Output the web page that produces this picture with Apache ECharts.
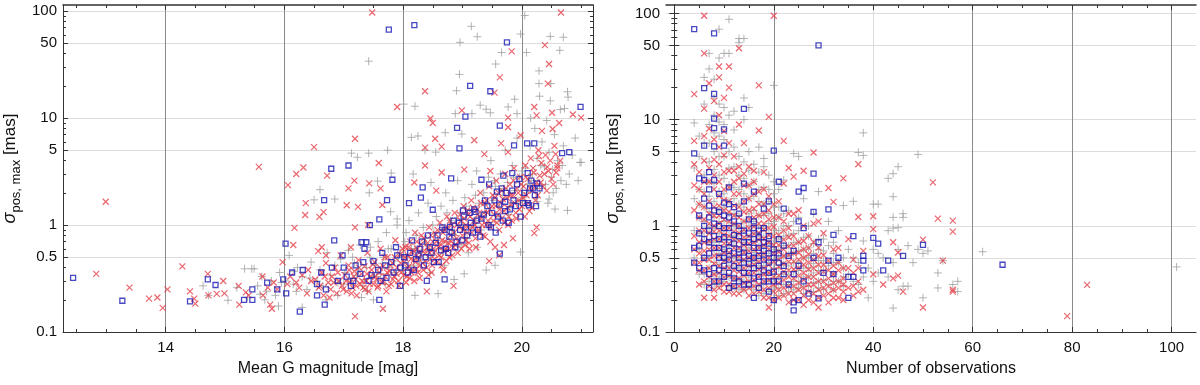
<!DOCTYPE html>
<html>
<head>
<meta charset="utf-8">
<script src="https://cdn.jsdelivr.net/npm/echarts@6/dist/echarts.min.js"></script>
<style>
html, body { margin: 0; padding: 0; background: #fff; }
#chart { width: 1200px; height: 385px; }
</style>
</head>
<body>
<div id="chart"></div>
<script>
// ---- tick values ----
var magTicks = [14, 16, 18, 20]
var magMinor = [12.5, 13, 13.5, 14.5, 15, 15.5, 16.5, 17, 17.5, 18.5, 19, 19.5, 20.5, 21]
var obsTicks = [0, 20, 40, 60, 80, 100]
var obsMinor = [5, 10, 15, 25, 30, 35, 45, 50, 55, 65, 70, 75, 85, 90, 95]
var sigmaTicks = [0.1, 0.5, 1, 5, 10, 50, 100]
var sigmaMinor = [0.2, 0.3, 0.4, 0.6, 0.7, 0.8, 0.9, 2, 3, 4, 6, 7, 8, 9, 20, 30, 40, 60, 70, 80, 90]

// ---- left panel: mean G magnitude vs sigma ----
var magGray = [
  [20.05,91],[19.15,72],[19.25,57.6],[19.98,61],[20.48,58],[20.7,57],[18.96,51],[20.08,41],[20.64,43],[19.66,41],
  [17.42,34],[19.56,32],[18.95,25.6],[20.29,27.6],[20.29,21],[20.49,21],[18.9,18],[20.77,17.6],[20.3,16],[20.78,15.7],
  [19.88,15],[18.01,13.5],[18.2,12.9],[19.3,13.2],[19.4,12.1],[19.77,12.7],[20.48,14.5],[20.72,12.3],[18.88,11],[19.16,11],
  [19.47,11.2],[19.92,11],[20.15,10],[18.14,6.6],[18.25,6.8],[18.37,5.0],[18.55,4.8],[18.71,7.3],[18.99,7.1],[17.13,4.7],
  [17.42,4.7],[17.23,4.3],[17.74,5.0],[17.8,3.06],[18.17,3.0],[18.47,2.5],[16.6,2.14],[16.5,1.72],[16.85,1.75],[17.43,2.0],
  [17.57,2.57],[17.79,1.33],[17.9,1.14],[16.08,0.52],[15.49,0.39],[15.33,0.39],[14.63,0.27],[14.72,0.22],[15.05,0.198],[15.38,0.21],
  [15.67,0.2],[15.59,0.225],[16.02,0.3],[16.16,0.37],[16.43,0.32],[18.59,0.228],[18.86,0.31],[19.03,0.35],[19.4,0.38],[19.55,0.42],
  [19.98,0.56],[20.56,1.41],[20.77,1.37],[20.98,3.85],[20.26,1.65],[20.46,1.75],[20.53,2.0],[20.66,2.6],[16.3,0.17],[15.9,0.175],
  [17.5,0.2],[17.3,0.21],[18.2,0.22],
  [15.45,0.39],[15.55,0.27],[15.62,0.33],[15.7,0.24],[15.78,0.3],[15.85,0.22],[15.92,0.36],[16.15,0.28],[16.22,0.4],[16.3,0.33],
  [16.38,0.25],[16.45,0.45],[16.55,0.3],[16.6,0.38],[16.65,0.27],[16.72,0.55],[16.78,0.34],[16.85,0.42],[16.9,0.29],[16.95,0.48],
  [17.02,0.36],[17.08,0.58],[17.12,0.3],[17.18,0.44],[17.22,0.34],[17.28,0.65],[17.32,0.27],[17.38,0.4],[17.44,0.5],[17.48,0.33],
  [17.53,0.42],[17.58,0.7],[17.62,0.35],[17.67,0.5],[17.72,0.85],[17.76,0.4],[17.8,0.6],[17.85,0.46],[17.9,1.0],[17.95,0.55],
  [17.98,0.38],[18.03,0.7],[18.07,0.5],[18.1,1.1],[18.14,0.6],[18.18,0.42],[18.22,0.8],[18.26,1.3],[18.3,0.55],[18.34,0.95],
  [18.38,0.68],[18.42,1.6],[18.46,0.5],[18.52,0.85],[18.56,1.2],[18.6,0.6],[18.64,1.5],[18.68,0.9],[18.72,2.0],[18.76,0.7],
  [18.8,1.1],[18.84,1.7],[18.88,0.8],[18.92,2.6],[18.96,1.3],[19.0,1.0],[19.04,1.8],[19.08,0.75],[19.12,1.4],[19.16,2.4],
  [19.2,1.1],[19.24,3.2],[19.28,1.6],[19.32,0.9],[19.36,2.0],[19.4,1.3],[19.44,2.8],[19.48,4.0],[19.52,1.7],[19.56,2.3],
  [19.6,1.2],[19.64,3.0],[19.68,1.9],[19.72,5.0],[19.76,2.5],[19.8,1.5],[19.84,3.6],[19.88,2.1],[19.92,6.5],[19.96,2.8],
  [20.02,1.8],[20.06,3.4],[20.1,2.4],[20.14,5.5],[20.18,3.0],[20.22,8.0],[20.26,4.2],[20.3,2.2],[20.34,6.0],[20.38,3.5],
  [20.42,9.5],[20.46,4.8],[20.5,2.8],[20.55,7.0],[20.6,4.0],[20.65,12],[20.7,5.5],[20.8,3.0],[20.9,6.5],[21.0,3.85],
  [17.0,0.28],[17.15,0.5],[17.25,0.38],[17.35,0.31],[17.45,0.62],[17.55,0.33],[17.65,0.44],[17.75,0.6],[17.85,0.36],[17.92,0.5],
  [18.0,0.45],[18.05,0.85],[18.12,0.38],[18.2,0.6],[18.28,0.47],[18.36,0.75],[18.44,0.6],[18.5,1.0],[18.58,0.72],[18.66,0.55],
  [18.74,1.3],[18.82,0.9],[18.9,1.15],[18.98,0.65],[19.06,1.5],[19.14,0.95],[19.22,1.9],[19.3,1.2],[19.38,1.55],[19.46,1.05],
  [19.54,2.6],[19.62,1.5],[19.7,2.2],[19.78,1.25],[19.86,2.8],[19.94,1.7],[20.0,3.2],[20.08,2.0],[20.16,2.6],[20.24,1.8],
  [20.32,3.6],[20.4,2.4],[20.44,1.6],[20.52,3.3],[20.58,2.2],[20.68,3.6],[20.75,2.4],[20.85,4.5],[20.95,2.6],[19.1,0.55],
  [19.25,0.62],[18.7,0.42],[18.45,0.36],[17.7,0.28],[17.4,0.24],[16.9,0.22],[16.7,0.2],[16.2,0.24],[15.95,0.29],[15.2,0.26]
]
var magRed = [
  [17.48,97],[20.66,97],[20.39,48],[19.83,42],[20.46,32],[19.63,24],[20.44,21],[18.37,17.8],[19.54,17.3],[17.9,12.7],
  [20.21,12.7],[18.99,11.8],[20.51,11.2],[20.25,10.6],[20.86,10.8],[21.0,10.1],[19.77,10.1],[18.46,9.9],[18.5,9.0],[20.63,9.0],
  [19.77,8.2],[20.34,7.6],[20.52,7.9],[19.98,6.9],[19.2,6.2],[18.54,6.4],[19.65,5.8],[18.37,5.3],[18.65,5.4],[19.37,4.6],
  [19.77,4.8],[20.57,4.6],[20.29,4.4],[18.37,3.6],[19.03,3.3],[19.47,3.2],[18.65,3.1],[20.6,3.4],[20.43,3.5],[18.19,2.5],
  [18.56,2.1],[16.5,5.35],[17.19,6.4],[15.57,3.5],[16.32,3.45],[16.2,3.0],[17.59,3.8],[16.72,2.9],[16.06,2.36],[17.18,2.6],
  [17.43,2.45],[17.08,2.2],[17.62,2.2],[16.36,1.6],[16.59,1.19],[16.66,1.32],[16.35,1.24],[17.05,1.53],[17.24,1.48],[17.65,1.54],
  [16.17,0.94],[17.19,0.95],[17.41,1.0],[12.99,1.65],[12.83,0.35],[13.39,0.26],[13.72,0.205],[13.86,0.21],[13.95,0.168],[14.03,0.25],
  [14.28,0.41],[14.41,0.24],[14.48,0.205],[14.5,0.184],[14.71,0.35],[14.72,0.22],[14.86,0.227],[14.97,0.3],[14.99,0.23],[15.23,0.27],
  [15.24,0.18],[15.35,0.235],[15.4,0.22],[15.63,0.33],[15.64,0.22],[15.72,0.26],[15.76,0.18],[15.79,0.165],[15.82,0.29],[15.88,0.25],
  [15.97,0.45],[16.15,0.65],[16.2,0.29],[16.3,0.34],[16.38,0.23],[16.57,0.57],[16.63,0.62],[16.7,0.52],[17.66,0.165],[17.19,0.14],
  [18.85,0.27],[18.4,0.24],[16.05,0.28],[16.1,0.33],[16.25,0.26],[16.45,0.3],[16.4,0.38],
  [20.21,0.84],[20.25,0.95],[19.45,0.46],[19.62,0.52],[19.7,0.65],[19.85,0.75],[19.55,0.62],
  [16.52,0.31],[16.58,0.26],[16.63,0.36],[16.66,0.22],[16.7,0.44],[16.74,0.29],[16.78,0.25],[16.8,0.33],[16.85,0.4],[16.88,0.23],
  [16.92,0.3],[16.95,0.52],[16.97,0.27],[17.02,0.34],[17.05,0.24],[17.08,0.42],[17.1,0.29],[17.12,0.62],[17.15,0.26],[17.18,0.37],
  [17.2,0.31],[17.22,0.22],[17.25,0.47],[17.28,0.28],[17.3,0.35],[17.33,0.26],[17.35,0.41],[17.38,0.3],[17.4,0.55],[17.42,0.24],
  [17.45,0.33],[17.47,0.38],[17.5,0.28],[17.52,0.45],[17.55,0.31],[17.57,0.26],[17.6,0.36],[17.62,0.6],[17.65,0.29],[17.67,0.41],
  [17.7,0.33],[17.72,0.24],[17.74,0.5],[17.77,0.37],[17.8,0.28],[17.82,0.44],[17.85,0.33],[17.87,0.72],[17.9,0.4],[17.92,0.3],
  [17.95,0.53],[17.97,0.36],[18.02,0.45],[18.04,0.62],[18.06,0.33],[18.08,0.52],[18.1,0.41],[18.12,0.7],[18.14,0.36],[18.16,0.55],
  [18.18,0.47],[18.2,0.85],[18.22,0.39],[18.24,0.6],[18.26,0.5],[18.28,0.32],[18.3,0.66],[18.33,0.44],[18.35,0.75],[18.37,0.54],
  [18.4,0.4],[18.42,0.62],[18.44,0.95],[18.46,0.48],[18.48,0.36],[18.5,0.7],[18.52,0.55],[18.55,0.82],[18.57,0.45],[18.6,0.62],
  [18.62,1.05],[18.64,0.5],[18.66,0.72],[18.68,0.38],[18.7,0.9],[18.72,0.6],[18.74,1.2],[18.76,0.68],[18.78,0.5],[18.8,0.8],
  [18.82,1.0],[18.85,0.62],[18.87,1.3],[18.9,0.75],[18.92,0.55],[18.95,0.95],[18.97,1.1],[19.0,0.8],[19.02,1.5],[19.04,0.65],
  [19.06,1.0],[19.08,0.85],[19.1,1.25],[19.12,0.6],[19.15,1.7],[19.17,0.95],[19.2,1.1],[19.22,0.75],[19.25,1.4],[19.27,0.9],
  [19.3,2.0],[19.32,1.15],[19.35,0.8],[19.37,1.6],[19.4,1.0],[19.42,1.3],[19.45,2.3],[19.47,0.7],[19.5,1.5],[19.52,1.1],
  [19.55,1.8],[19.57,2.6],[19.6,1.25],[19.62,0.9],[19.65,1.6],[19.67,2.1],[19.7,1.35],[19.72,3.0],[19.75,1.8],[19.77,1.0],
  [19.8,2.4],[19.82,1.55],[19.85,1.9],[19.87,3.4],[19.9,1.3],[19.92,2.2],[19.95,1.7],[19.97,2.8],[20.0,1.5],[20.03,2.3],
  [20.06,3.6],[20.08,1.9],[20.1,2.7],[20.13,1.35],[20.15,4.2],[20.18,2.1],[20.2,3.1],[20.23,1.7],[20.25,2.5],[20.28,5.0],
  [20.3,2.9],[20.33,3.8],[20.36,2.3],[20.4,4.5],[20.45,3.2],[20.5,2.7],[20.55,5.5],[20.6,3.6],[20.65,4.0],
  [16.6,0.27],[16.68,0.33],[16.76,0.21],[16.83,0.29],[16.9,0.36],[16.99,0.25],[17.04,0.3],[17.09,0.38],[17.13,0.23],[17.17,0.33],
  [17.21,0.27],[17.26,0.4],[17.31,0.3],[17.36,0.25],[17.39,0.35],[17.44,0.28],[17.49,0.43],[17.53,0.33],[17.58,0.27],[17.61,0.4],
  [17.66,0.3],[17.69,0.5],[17.73,0.36],[17.76,0.27],[17.79,0.42],[17.83,0.31],[17.86,0.5],[17.89,0.35],[17.93,0.27],[17.96,0.44],
  [17.99,0.6],[18.01,0.34],[18.03,0.5],[18.05,0.29],[18.07,0.4],[18.09,0.62],[18.11,0.32],[18.13,0.48],[18.15,0.38],[18.17,0.58],
  [18.19,0.3],[18.21,0.45],[18.23,0.7],[18.25,0.36],[18.27,0.55],[18.29,0.42],[18.31,0.8],[18.34,0.38],[18.36,0.58],[18.38,0.46],
  [18.41,0.68],[18.43,0.34],[18.45,0.55],[18.47,0.8],[18.49,0.42],[18.51,0.6],[18.53,0.48],[18.56,0.7],[18.58,0.9],[18.61,0.52],
  [18.63,0.66],[18.65,0.42],[18.67,0.85],[18.69,0.58],[18.71,0.7],[18.73,0.46],[18.75,0.95],[18.77,0.6],[18.79,1.1],[18.81,0.7],
  [18.83,0.52],[18.86,0.85],[18.88,0.65],[18.91,1.0],[18.93,0.7],[18.96,1.25],[18.98,0.6],[19.01,0.9],[19.03,1.15],[19.05,0.72],
  [19.07,1.35],[19.09,0.95],[19.11,0.68],[19.13,1.2],[19.16,0.85],[19.18,1.45],[19.21,1.0],[19.23,0.62],[19.26,1.25],[19.28,0.85],
  [19.31,1.6],[19.33,1.0],[19.36,1.3],[19.38,0.78],[19.41,1.7],[19.43,1.1],[19.46,1.4],[19.48,0.95],[19.51,1.9],[19.53,1.25],
  [19.56,1.5],[19.58,1.05],[19.61,2.0],[19.63,1.4],[19.66,1.15],[19.68,1.75],[19.71,1.05],[19.73,2.2],[19.76,1.45],[19.78,1.2],
  [19.81,1.9],[19.83,1.1],[19.86,2.6],[19.88,1.6],[19.91,1.15],[19.94,2.0],[19.96,1.4],[19.99,2.4],[20.02,1.8],[20.05,1.2],
  [20.07,2.8],[20.11,1.6],[20.14,2.2],[20.17,1.45],[20.19,3.4],[20.22,2.3],[20.27,1.9],[20.32,2.5],[20.38,3.0],[20.42,2.1],
  [20.48,4.0],[20.53,2.4],[20.58,3.1]
]
var magBlue = [
  [12.44,0.32],[13.27,0.196],[14.41,0.193],[14.71,0.31],[14.84,0.275],[15.32,0.2],[15.46,0.25],[15.46,0.2],[15.71,0.29],[15.88,0.25],
  [15.98,0.31],[16.02,0.67],[16.03,0.23],[16.13,0.36],[16.26,0.155],[16.31,0.38],[16.55,0.22],[16.68,0.18],[16.67,1.71],[16.79,3.36],
  [16.84,0.72],[17.08,3.6],[17.44,1.0],[17.6,1.13],[17.73,1.71],[17.82,2.65],[17.76,67],[18.19,74],[19.75,51],[19.13,20],
  [19.47,17.8],[20.99,12.7],[19.05,10.3],[19.63,8.5],[18.91,8.1],[18.95,5.2],[19.87,5.55],[20.09,5.8],[20.21,5.8],[20.68,4.7],
  [20.8,4.8],[18.33,2.25],[18.81,2.73],[18.3,1.8],[18.1,1.6],[18.5,1.39],[19.32,2.65],[19.45,2.4],[19.58,2.05],[19.69,2.9],
  [19.84,3.06],[20.1,3.06],[20.26,2.45],[20.19,2.2],[20.12,1.53],[19.72,1.65],[19.01,1.37],[19.22,1.33],[18.79,0.96],[19.63,0.54],
  [18.4,0.3],[18.7,0.31],[17.6,0.2],[17.95,0.27],[17.3,0.69],[17.38,0.69],
  [16.55,0.28],[16.62,0.36],[16.7,0.25],[16.8,0.4],[16.9,0.3],[16.98,0.52],[17.05,0.33],[17.12,0.27],[17.2,0.42],[17.28,0.35],
  [17.35,0.6],[17.42,0.3],[17.5,0.46],[17.58,0.38],[17.65,0.55],[17.72,0.32],[17.8,0.45],[17.88,0.62],[17.95,0.4],[18.02,0.5],
  [18.08,0.36],[18.15,0.72],[18.22,0.48],[18.28,0.6],[18.35,0.42],[18.42,0.8],[18.48,0.55],[18.55,0.68],[18.6,0.45],[18.66,0.95],
  [18.72,0.6],[18.78,0.78],[18.85,1.1],[18.9,0.7],[18.96,0.9],[19.02,1.2],[19.08,0.8],[19.14,1.05],[19.2,1.4],[19.26,0.9],
  [19.32,1.15],[19.38,1.7],[19.44,1.0],[19.5,1.3],[19.56,0.85],[19.62,1.55],[19.68,1.1],[19.74,2.0],[19.8,1.4],[19.86,1.7],
  [19.92,2.4],[19.98,1.2],[20.04,2.0],[20.1,1.6],[20.16,2.6],[20.22,1.9],[20.3,2.2],
  [17.0,0.4],[17.16,0.3],[17.33,0.45],[17.47,0.34],[17.62,0.3],[17.7,0.42],[17.84,0.36],[17.9,0.52],[18.04,0.42],[18.12,0.55],
  [18.18,0.38],[18.26,0.52],[18.32,0.7],[18.38,0.5],[18.45,0.62],[18.52,0.45],[18.58,0.8],[18.64,0.58],[18.7,0.9],[18.76,0.55],
  [18.82,0.85],[18.88,0.62],[18.94,1.05],[19.0,0.72],[19.06,0.95],[19.12,1.3],[19.18,0.85],[19.24,1.1],[19.3,0.78],[19.36,1.25],
  [19.42,1.5],[19.48,0.95],[19.54,1.7],[19.6,1.2],[19.66,2.2],[19.72,1.35],[19.78,1.05],[19.84,2.1],[19.9,1.5],[19.96,2.7],
  [20.02,1.6],[20.14,2.2],[20.24,1.5]
]

// ---- right panel: number of observations vs sigma ----
var obsGray = [
  [4,0.5],[4,0.9],[4,1.8],[4,3.5],[4,9.3],[5,0.6],[5,1.2],[5,2.2],[5,4.5],[5,7],
  [6,0.35],[6,0.8],[6,1.5],[6,3],[6,6],[6,14],[6,25],[7,0.3],[7,0.5],[7,0.95],
  [7,1.9],[7,4],[7,9],[7,30],[7,42],[8,0.28],[8,0.45],[8,0.7],[8,1.2],[8,2.5],
  [8,5],[8,11],[8,16],[9,0.33],[9,0.55],[9,0.85],[9,1.4],[9,3],[9,7],[9,14],
  [9,71],[9,38],[10,0.3],[10,0.48],[10,0.75],[10,1.1],[10,2],[10,4.5],[10,9],[10,42],
  [11,0.27],[11,0.42],[11,0.65],[11,1.0],[11,1.7],[11,3.5],[11,88],[11,42],[12,0.32],[12,0.5],
  [12,0.8],[12,1.3],[12,2.3],[12,5.5],[12,12],[13,0.25],[13,0.4],[13,0.6],[13,0.95],[13,1.6],
  [13,3],[13,53],[13,58],[14,0.3],[14,0.46],[14,0.7],[14,1.1],[14,2],[14,4],[14,16],
  [14,58],[15,0.27],[15,0.42],[15,0.62],[15,1.0],[15,1.8],[15,3.3],[15,13],[16,0.25],[16,0.38],
  [16,0.56],[16,0.85],[16,1.4],[16,2.6],[17,0.22],[17,0.35],[17,0.52],[17,0.8],[17,1.25],[17,2.2],
  [17,5.5],[18,0.28],[18,0.42],[18,0.62],[18,0.95],[18,1.6],[18,3.6],[19,0.24],[19,0.36],[19,0.55],
  [19,0.85],[19,1.3],[19,2.2],[20,0.21],[20,0.32],[20,0.48],[20,0.72],[20,1.1],[20,2.0],[20,21],
  [21,0.26],[21,0.4],[21,0.6],[21,0.9],[21,1.5],[22,0.23],[22,0.35],[22,0.52],[22,0.8],[22,1.3],
  [22,2.7],[23,0.28],[23,0.42],[23,0.65],[23,1.0],[24,0.25],[24,0.37],[24,0.56],[24,0.85],[24,4.8],
  [25,0.3],[25,0.45],[25,0.7],[25,1.2],[25,4.5],[26,0.27],[26,0.4],[26,0.6],[26,1.8],[27,0.33],
  [27,0.5],[27,0.8],[28,0.29],[28,0.44],[28,0.68],[28,1.3],[29,0.26],[29,0.38],[29,0.6],[29,2.1],
  [30,0.31],[30,0.47],[30,0.75],[31,0.28],[31,0.42],[31,0.65],[31,1.1],[32,0.25],[32,0.35],[32,0.55],
  [33,0.3],[33,0.45],[33,0.9],[34,0.27],[34,0.4],[34,1.55],[35,0.35],[35,0.6],[36,0.3],[36,0.5],
  [36,1.7],[37,0.28],[37,0.45],[37,4.9],[38,0.33],[38,0.72],[38,7.5],[38,4.6],[39,0.4],[39,0.21],
  [40,0.3],[40,0.6],[40,1.6],[41,0.36],[41,0.55],[41,1.6],[42,0.5],[43,0.33],[43,0.9],[43,2.8],
  [44,0.168],[44,0.45],[44,0.95],[44,1.2],[44,1.88],[44,3.1],[45,0.6],[45,0.25],[45,3.6],[45,0.96],
  [46,0.27],[46,1.2],[46,1.3],[47,0.27],[47,0.65],[48,0.45],[49,0.6],[49,4.7],[50,0.55],[50,0.21],
  [51,0.58],[53,0.26],[53,0.36],[54,0.47],[56,0.28],[57,0.24],[57,0.3],[62,0.57],[101,0.41],
  [5,0.35],[5,0.85],[5,1.6],[6,0.28],[6,0.5],[6,1.1],[6,2.1],[7,0.4],[7,0.7],[7,1.35],
  [7,2.6],[7,6],[8,0.35],[8,0.58],[8,0.95],[8,1.7],[8,3.4],[8,7.5],[8,24],[9,0.27],
  [9,0.43],[9,0.7],[9,1.1],[9,2.1],[9,4.5],[9,9.5],[10,0.38],[10,0.6],[10,0.9],[10,1.5],
  [10,2.8],[10,6.5],[10,13],[11,0.33],[11,0.52],[11,0.8],[11,1.3],[11,2.4],[11,5],[11,11],
  [12,0.26],[12,0.4],[12,0.65],[12,1.0],[12,1.8],[12,3.6],[12,8],[13,0.31],[13,0.48],[13,0.75],
  [13,1.25],[13,2.2],[13,4.5],[14,0.25],[14,0.38],[14,0.58],[14,0.9],[14,1.5],[14,2.8],[14,10],
  [15,0.33],[15,0.5],[15,0.78],[15,1.3],[15,2.4],[15,5],[16,0.3],[16,0.46],[16,0.7],[16,1.1],
  [16,1.9],[16,3.8],[17,0.27],[17,0.42],[17,0.64],[17,1.0],[17,1.7],[17,3.2],[18,0.23],[18,0.35],
  [18,0.52],[18,0.78],[18,1.25],[18,2.3],[18,4.3],[19,0.3],[19,0.45],[19,0.68],[19,1.05],[19,1.7],
  [19,3],[20,0.26],[20,0.4],[20,0.6],[20,0.9],[20,1.5],[20,2.6],[21,0.22],[21,0.33],[21,0.5],
  [21,0.75],[21,1.2],[21,2.2],[22,0.28],[22,0.43],[22,0.65],[22,1.0],[23,0.24],[23,0.35],[23,0.53],
  [23,0.82],[23,1.4],[24,0.3],[24,0.45],[24,0.7],[24,1.1],[25,0.26],[25,0.38],[25,0.58],[25,0.9],
  [26,0.23],[26,0.33],[26,0.5],[26,0.78],[27,0.27],[27,0.4],[27,0.62],[27,1.0],[28,0.24],[28,0.36],
  [28,0.55],[29,0.3],[29,0.47],[29,0.75],[30,0.25],[30,0.38],[30,0.58],[32,0.3],[32,0.45],[32,0.7],
  [34,0.33],[34,0.5]
]
var obsRed = [
  [4,0.45],[4,0.8],[4,2.4],[4,6.3],[4,17.4],[5,0.38],[5,0.55],[5,0.9],[5,1.6],[5,3.2],
  [6,0.21],[6,0.3],[6,0.48],[6,0.7],[6,1.15],[6,2.0],[6,4.1],[6,12.7],[6,42],[6,95],
  [7,0.27],[7,0.4],[7,0.6],[7,0.85],[7,1.3],[7,2.6],[7,8.2],[8,0.21],[8,0.25],[8,0.35],
  [8,0.52],[8,0.75],[8,1.0],[8,1.5],[8,3.0],[8,6.5],[9,0.3],[9,0.42],[9,0.62],[9,0.9],
  [9,1.25],[9,1.9],[9,3.8],[9,11],[9,25],[9,31.6],[10,0.24],[10,0.33],[10,0.47],[10,0.68],
  [10,0.95],[10,1.4],[10,2.2],[10,7.8],[10,16],[11,0.28],[11,0.4],[11,0.56],[11,0.8],[11,1.1],
  [11,1.7],[11,3.3],[11,20],[11,31.6],[12,0.23],[12,0.32],[12,0.45],[12,0.62],[12,0.88],[12,1.25],
  [12,2.0],[12,4.5],[13,0.27],[13,0.37],[13,0.52],[13,0.72],[13,1.0],[13,1.5],[13,2.8],[13,9],
  [13,47],[14,0.25],[14,0.34],[14,0.48],[14,0.66],[14,0.92],[14,1.35],[14,2.4],[14,6],[15,0.22],
  [15,0.3],[15,0.42],[15,0.58],[15,0.8],[15,1.15],[15,1.8],[15,3.6],[16,0.27],[16,0.36],[16,0.5],
  [16,0.7],[16,0.98],[16,1.45],[16,2.6],[17,0.24],[17,0.33],[17,0.46],[17,0.62],[17,0.86],[17,1.25],
  [17,2.1],[17,7.9],[17,21],[18,0.21],[18,0.3],[18,0.4],[18,0.55],[18,0.76],[18,1.05],[18,1.6],
  [18,3.2],[19,0.17],[19,0.26],[19,0.36],[19,0.5],[19,0.7],[19,0.95],[19,1.4],[19,10.6],[20,0.2],
  [20,0.28],[20,0.38],[20,0.55],[20,0.8],[20,1.2],[20,95],[21,0.25],[21,0.34],[21,0.48],[21,0.66],
  [21,1.7],[22,0.22],[22,0.31],[22,0.44],[22,0.6],[22,0.9],[22,2.5],[22,6.3],[23,0.19],[23,0.27],
  [23,0.38],[23,0.53],[23,0.78],[23,1.3],[23,3.5],[24,0.23],[24,0.32],[24,0.46],[24,0.65],[24,2.9],
  [25,0.2],[25,0.29],[25,0.4],[25,0.56],[25,1.4],[26,0.18],[26,0.26],[26,0.36],[26,0.5],[26,0.72],
  [26,3.3],[27,0.24],[27,0.33],[27,0.45],[27,0.62],[28,0.19],[28,0.28],[28,0.4],[28,1.05],[28,4.9],
  [29,0.17],[29,0.25],[29,0.36],[29,0.52],[30,0.22],[30,0.3],[30,0.43],[30,0.85],[31,0.19],[31,0.27],
  [31,0.38],[31,2.27],[32,0.25],[32,0.35],[32,0.6],[32,1.68],[33,0.21],[33,0.3],[33,0.45],[34,0.24],
  [34,0.32],[34,2.8],[35,0.26],[35,0.4],[35,0.75],[36,0.22],[36,0.48],[37,0.3],[37,1.21],[37,3.8],
  [38,0.25],[38,0.58],[40,0.35],[40,0.93],[40,1.23],[42,0.28],[44,0.32],[44,0.7],[45,0.34],[45,0.56],
  [46,0.24],[50,0.17],[50,0.74],[52,2.56],[53,1.17],[54,0.47],[56,0.24],[56,0.25],[56,0.88],[56,1.12],
  [79,0.141],[83,0.278],
  [4,0.6],[4,1.4],[4,3.8],[5,0.28],[5,0.45],[5,0.7],[5,1.2],[5,2.2],[6,0.38],[6,0.58],
  [6,0.9],[6,1.5],[6,2.6],[6,7],[7,0.33],[7,0.48],[7,0.72],[7,1.05],[7,1.7],[7,3.5],
  [7,22],[8,0.3],[8,0.44],[8,0.62],[8,0.88],[8,1.25],[8,2.2],[8,4.2],[8,15],[9,0.26],
  [9,0.36],[9,0.52],[9,0.75],[9,1.05],[9,1.55],[9,2.6],[9,5.5],[10,0.28],[10,0.4],[10,0.56],
  [10,0.82],[10,1.15],[10,1.75],[10,3.2],[10,4.6],[11,0.24],[11,0.34],[11,0.48],[11,0.68],[11,0.95],
  [11,1.35],[11,2.3],[11,6],[12,0.27],[12,0.38],[12,0.53],[12,0.74],[12,1.05],[12,1.55],[12,2.6],
  [12,3.3],[13,0.23],[13,0.32],[13,0.44],[13,0.62],[13,0.85],[13,1.2],[13,2.0],[13,3.6],[14,0.29],
  [14,0.4],[14,0.56],[14,0.78],[14,1.1],[14,1.7],[14,3.1],[15,0.26],[15,0.36],[15,0.5],[15,0.68],
  [15,0.95],[15,1.4],[15,2.4],[16,0.23],[16,0.31],[16,0.43],[16,0.6],[16,0.84],[16,1.2],[16,2.0],
  [16,3.3],[17,0.28],[17,0.39],[17,0.54],[17,0.74],[17,1.05],[17,1.6],[18,0.25],[18,0.35],[18,0.48],
  [18,0.66],[18,0.92],[18,1.3],[18,2.2],[19,0.21],[19,0.31],[19,0.43],[19,0.6],[19,0.82],[19,1.15],
  [19,1.9],[20,0.24],[20,0.33],[20,0.46],[20,0.66],[20,0.98],[20,1.6],[21,0.21],[21,0.29],[21,0.41],
  [21,0.57],[21,0.82],[21,1.2],[22,0.26],[22,0.37],[22,0.52],[22,0.74],[22,1.1],[23,0.23],[23,0.33],
  [23,0.46],[23,0.64],[23,0.95],[24,0.2],[24,0.27],[24,0.39],[24,0.55],[24,0.8],[24,1.3],[25,0.25],
  [25,0.34],[25,0.48],[25,0.7],[26,0.22],[26,0.31],[26,0.43],[26,0.6],[26,1.0],[27,0.2],[27,0.28],
  [27,0.39],[27,0.54],[27,0.8],[28,0.23],[28,0.33],[28,0.48],[28,0.7],[29,0.21],[29,0.3],[29,0.43],
  [29,0.62],[29,1.1],[30,0.26],[30,0.37],[30,0.53],[31,0.23],[31,0.32],[31,0.47],[32,0.21],[32,0.29],
  [32,0.42],[33,0.26],[33,0.38],[33,0.62],[34,0.2],[34,0.28],[34,0.4],[36,0.27],[36,0.36],[37,0.24],
  [37,0.4]
]
var obsBlue = [
  [4,0.45],[4,0.62],[4,4.8],[4,71],[5,0.65],[5,1.25],[5,2.8],[6,0.38],[6,0.75],[6,2.7],
  [6,5.7],[6,19.8],[7,0.26],[7,0.55],[7,0.9],[7,1.55],[7,3.2],[8,0.3],[8,0.62],[8,1.05],
  [8,2.7],[8,5.6],[8,8.3],[8,10.2],[8,17.5],[8,65],[9,0.38],[9,0.5],[9,0.75],[9,1.35],
  [10,0.42],[10,0.6],[10,0.95],[10,1.65],[10,5.7],[10,8.1],[11,0.26],[11,0.48],[11,0.7],[11,1.2],
  [11,2.3],[12,0.32],[12,0.55],[12,0.82],[12,1.5],[13,0.4],[13,0.6],[13,1.0],[14,0.28],[14,0.45],
  [14,0.7],[14,1.7],[14,2.5],[14,12.6],[15,0.36],[15,0.52],[15,0.85],[16,0.21],[16,0.32],[16,0.5],
  [16,0.75],[16,1.1],[16,2.1],[17,0.26],[17,0.42],[17,0.62],[17,0.9],[18,0.3],[18,0.48],[18,0.7],
  [18,1.45],[19,0.24],[19,0.36],[19,0.55],[19,0.8],[19,1.7],[20,0.2],[20,0.3],[20,0.6],[20,5.1],
  [21,0.45],[21,0.75],[21,2.6],[22,0.35],[22,1.45],[23,0.28],[23,0.52],[24,0.16],[24,0.19],[25,0.2],
  [25,0.42],[25,1.1],[25,2.1],[26,0.3],[26,0.95],[26,2.27],[27,0.23],[28,0.5],[28,1.35],[28,3.1],
  [29,0.207],[29,0.7],[29,50],[30,0.36],[31,0.47],[31,1.43],[32,0.82],[32,0.35],[33,0.5],[35,0.21],
  [35,0.33],[36,0.8],[36,0.33],[38,0.52],[38,0.38],[38,0.47],[40,0.77],[41,0.68],[42,0.38],[43,0.47],
  [46,0.52],[50,0.66],[66,0.43],
  [5,0.4],[5,0.85],[6,0.5],[6,1.0],[6,1.8],[7,0.35],[7,0.7],[7,1.2],[7,2.2],[8,0.4],
  [8,0.8],[8,1.4],[9,0.3],[9,0.62],[9,1.0],[9,2.0],[10,0.33],[10,0.5],[10,0.78],[10,1.25],
  [11,0.36],[11,0.58],[11,0.95],[11,1.6],[12,0.27],[12,0.42],[12,0.68],[12,1.1],[13,0.3],[13,0.5],
  [13,0.8],[13,1.3],[14,0.36],[14,0.56],[14,0.9],[15,0.28],[15,0.44],[15,0.7],[15,1.15],[16,0.4],
  [16,0.62],[16,0.95],[17,0.33],[17,0.52],[17,0.78],[18,0.38],[18,0.58],[18,0.95],[19,0.3],[19,0.45],
  [19,0.68],[20,0.37],[20,0.5],[21,0.3],[21,0.55],[22,0.42],[22,0.65],[24,0.35],[24,0.58]
]

var FONT = '"Liberation Sans", Arial, Helvetica, sans-serif'
var FRAME = '#333'
var PLUS = 'path://M5,0L5,10M0,5L10,5'
var CROSS = 'path://M0,0L10,10M10,0L0,10'

function xAxes(grid, min, max, name, major, minor, splitColors) {
  var base = { type: 'value', gridIndex: grid, min: min, max: max }
  return [
    Object.assign({}, base, {
      position: 'bottom', name: name, nameLocation: 'middle', nameGap: 29,
      nameTextStyle: { fontFamily: FONT, fontSize: 16, color: '#111' },
      axisLine: { show: true, lineStyle: { color: FRAME, width: 1 } },
      axisTick: { inside: true, length: 5, customValues: major, lineStyle: { color: FRAME } },
      axisLabel: { customValues: major, margin: 8, fontFamily: FONT, fontSize: 15, color: '#111' },
      splitLine: { show: true, lineStyle: { color: splitColors, width: 1 } }
    }),
    Object.assign({}, base, {
      position: 'bottom', axisLine: { show: false },
      axisTick: { inside: true, length: 3, customValues: minor, lineStyle: { color: FRAME } },
      axisLabel: { show: false }, splitLine: { show: false }
    }),
    Object.assign({}, base, {
      position: 'top', axisLine: { show: true, lineStyle: { color: FRAME, width: 1.5 } },
      axisTick: { inside: true, length: 5, customValues: major, lineStyle: { color: FRAME } },
      axisLabel: { show: false }, splitLine: { show: false }
    }),
    Object.assign({}, base, {
      position: 'top', axisLine: { show: false },
      axisTick: { inside: true, length: 3, customValues: minor, lineStyle: { color: FRAME } },
      axisLabel: { show: false }, splitLine: { show: false }
    })
  ]
}

function yAxes(grid, max) {
  var base = { type: 'log', logBase: 10, gridIndex: grid, min: 0.1, max: max }
  return [
    Object.assign({}, base, {
      position: 'left',
      name: '{i|σ}{s|pos, max} [mas]', nameLocation: 'middle', nameGap: 40,
      nameTextStyle: {
        fontFamily: FONT, fontSize: 17, color: '#111',
        rich: {
          i: { fontFamily: FONT, fontSize: 18, fontStyle: 'italic', color: '#111' },
          s: { fontFamily: FONT, fontSize: 13, color: '#111', verticalAlign: 'bottom', lineHeight: 26 }
        }
      },
      axisLine: { show: true, lineStyle: { color: FRAME, width: 1 } },
      axisTick: { inside: true, length: 5, customValues: sigmaTicks, lineStyle: { color: FRAME } },
      axisLabel: { customValues: sigmaTicks, margin: 6, fontFamily: FONT, fontSize: 15, color: '#111' },
      splitLine: { show: true, lineStyle: { color: '#dcdcdc', width: 1 } }
    }),
    Object.assign({}, base, {
      position: 'left', axisLine: { show: false },
      axisTick: { inside: true, length: 3, customValues: sigmaMinor, lineStyle: { color: FRAME } },
      axisLabel: { show: false }, splitLine: { show: false }
    }),
    Object.assign({}, base, {
      position: 'right', axisLine: { show: true, lineStyle: { color: FRAME, width: 1 } },
      axisTick: { inside: true, length: 5, customValues: sigmaTicks, lineStyle: { color: FRAME } },
      axisLabel: { show: false }, splitLine: { show: false }
    }),
    Object.assign({}, base, {
      position: 'right', axisLine: { show: false },
      axisTick: { inside: true, length: 3, customValues: sigmaMinor, lineStyle: { color: FRAME } },
      axisLabel: { show: false }, splitLine: { show: false }
    })
  ]
}

function scatter(data, axis, kind) {
  var s = { type: 'scatter', xAxisIndex: axis, yAxisIndex: axis, data: data, silent: true }
  if (kind === 'plus') {
    s.symbol = PLUS; s.symbolSize = 8
    s.itemStyle = { color: 'rgba(0,0,0,0)', borderColor: '#a0a0a0', borderWidth: 1 }
  } else if (kind === 'cross') {
    s.symbol = CROSS; s.symbolSize = 6
    s.itemStyle = { color: 'rgba(0,0,0,0)', borderColor: '#e6404a', borderWidth: 1.2 }
  } else {
    s.symbol = 'rect'; s.symbolSize = 5
    s.itemStyle = { color: 'rgba(0,0,0,0)', borderColor: '#1a1ab4', borderWidth: 1.3 }
  }
  return s
}

var chart = echarts.init(document.getElementById('chart'), null, { renderer: 'canvas' })
chart.setOption({
  animation: false,
  backgroundColor: '#fff',
  grid: [
    { left: 63, top: 5, width: 530, height: 327 },
    { left: 666, top: 5, width: 530, height: 327 }
  ],
  xAxis: [].concat(
    xAxes(0, 12.27, 21.2, 'Mean G magnitude [mag]', magTicks, magMinor, '#8a8a8a'),
    xAxes(1, -1.67, 104.9, 'Number of observations', obsTicks, obsMinor,
      ['#8a8a8a', '#8a8a8a', '#dcdcdc', '#8a8a8a', '#8a8a8a', '#8a8a8a'])
  ),
  yAxis: [].concat(yAxes(0, 114), yAxes(1, 120)),
  series: [
    scatter(magGray, 0, 'plus'),
    scatter(magRed, 0, 'cross'),
    scatter(magBlue, 0, 'rect'),
    scatter(obsGray, 4, 'plus'),
    scatter(obsRed, 4, 'cross'),
    scatter(obsBlue, 4, 'rect')
  ]
})
</script>
</body>
</html>
